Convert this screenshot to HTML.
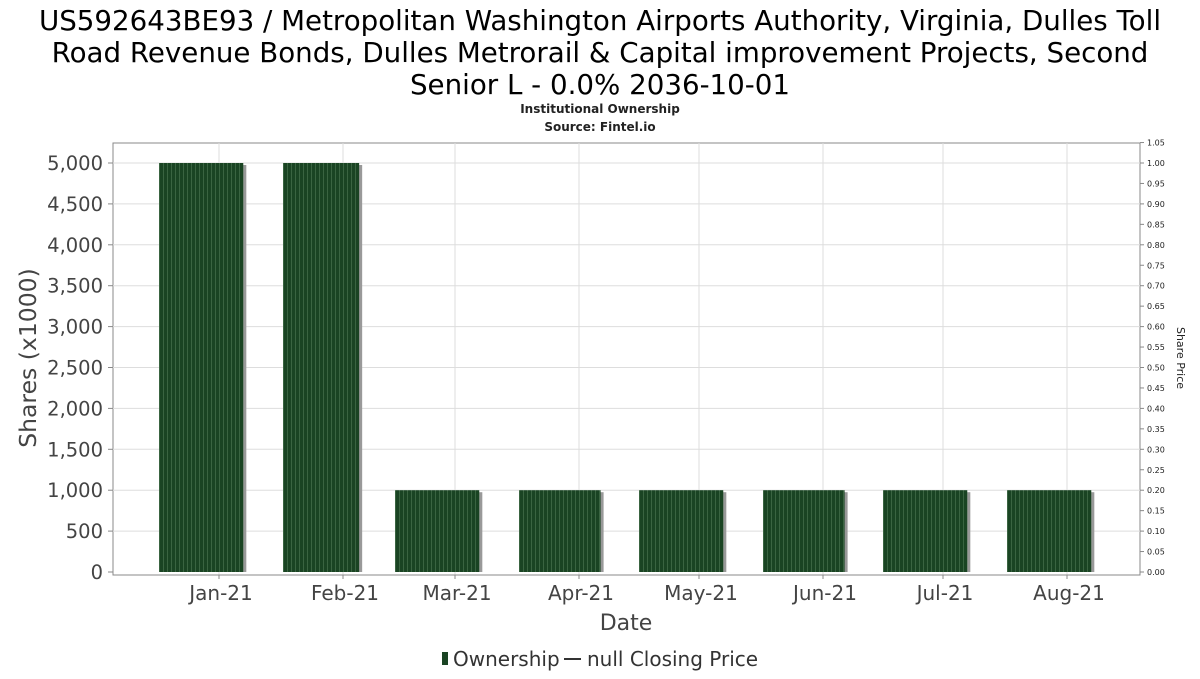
<!DOCTYPE html>
<html><head><meta charset="utf-8"><style>
body{margin:0;background:#fff;font-family:"DejaVu Sans","Liberation Sans",sans-serif;}
</style></head><body>
<svg width="1200" height="675" xmlns="http://www.w3.org/2000/svg" font-family="DejaVu Sans, Liberation Sans, sans-serif">
<defs><pattern id="stripe" width="4" height="10" patternUnits="userSpaceOnUse"><rect width="4" height="10" fill="#1a4423"/><rect x="3" width="1" height="10" fill="#3a6441"/></pattern></defs>
<g fill="#000" font-size="27.7" text-anchor="middle">
<text x="600" y="30">US592643BE93 / Metropolitan Washington Airports Authority, Virginia, Dulles Toll</text>
<text x="600" y="62">Road Revenue Bonds, Dulles Metrorail &amp; Capital improvement Projects, Second</text>
<text x="600" y="94">Senior L - 0.0% 2036-10-01</text>
</g>
<text x="600" y="113" font-size="12" font-weight="bold" text-anchor="middle" fill="#222">Institutional Ownership</text>
<text x="600" y="131" font-size="12" font-weight="bold" text-anchor="middle" fill="#222">Source: Fintel.io</text>
<rect x="113" y="143" width="1027" height="432" fill="#fff" stroke="#888"/>
<g id="grid"></g><g id="bars"></g><g id="axes"></g>
<text transform="translate(36,358) rotate(-90)" font-size="23.5" text-anchor="middle" fill="#444">Shares (x1000)</text>
<text transform="translate(1177,358) rotate(90)" font-size="11" text-anchor="middle" fill="#222">Share Price</text>
<text x="626" y="630" font-size="22" text-anchor="middle" fill="#444">Date</text>
<g>
<rect x="442" y="652" width="6" height="13" fill="#1a4423"/>
<text x="453" y="666" font-size="20" fill="#333">Ownership</text>
<line x1="564" y1="659" x2="581" y2="659" stroke="#333" stroke-width="2"/>
<text x="587" y="666" font-size="20" fill="#333">null Closing Price</text>
</g>
</svg>
<script>
const categories=["Jan-21","Feb-21","Mar-21","Apr-21","May-21","Jun-21","Jul-21","Aug-21"];
const monthStartDays=[0,31,59,90,120,151,181,212,243];
const shares=[5000,5000,1000,1000,1000,1000,1000,1000];
const yTicks=[0,500,1000,1500,2000,2500,3000,3500,4000,4500,5000];
const y2Ticks=["0.00","0.05","0.10","0.15","0.20","0.25","0.30","0.35","0.40","0.45","0.50","0.55","0.60","0.65","0.70","0.75","0.80","0.85","0.90","0.95","1.00","1.05"];
const NS="http://www.w3.org/2000/svg";
const xs=d=>159+d*4;
const ys=v=>572-v*409/5000;
const y2s=v=>572-v*409;
function mk(t,a,p,txt){const e=document.createElementNS(NS,t);for(const k in a)e.setAttribute(k,a[k]);if(txt!=null)e.textContent=txt;p.appendChild(e);return e;}
const grid=document.getElementById('grid'),bars=document.getElementById('bars'),axes=document.getElementById('axes');
yTicks.forEach(v=>{
 const y=ys(v);
 if(v>0){const g=mk('line',{x1:113,x2:1140,y1:y,y2:y,stroke:'#ddd'},grid);
 
 }
 mk('line',{x1:108,x2:113,y1:y,y2:y,stroke:'#888'},axes);
 const t=mk('text',{x:103,y:y+7,'font-size':19.5,'text-anchor':'end',fill:'#444'},axes,v.toLocaleString('en-US'));
 
 
});
y2Ticks.forEach(s=>{
 const y=y2s(parseFloat(s));
 mk('line',{x1:1140,x2:1144,y1:y,y2:y,stroke:'#888'},axes);
 const t=mk('text',{x:1147,y:y+3,'font-size':8,fill:'#222'},axes,s);
 
 
});
categories.forEach((c,i)=>{
 const tx=xs(monthStartDays[i]+15);
 const g=mk('line',{x1:tx,x2:tx,y1:143,y2:575,stroke:'#ddd'},grid);
 
 
 mk('line',{x1:tx,x2:tx,y1:575,y2:579,stroke:'#888'},axes);
 const t=mk('text',{x:tx+2,y:600,'font-size':20,'text-anchor':'middle',fill:'#444'},axes,c);
 
 
 const x0=xs(monthStartDays[i]),w=(xs(monthStartDays[i+1])-x0)*0.68,y=ys(shares[i]),h=572-y;
 mk('rect',{x:x0+3,y:y+2,width:w,height:h-2,fill:'#999'},bars);
 const b=mk('rect',{x:x0,y:y,width:w,height:h,fill:'url(#stripe)'},bars);
 
 
});
mk('line',{x1:113,x2:1140,y1:575,y2:575,stroke:'#888'},axes);
</script>
</body></html>
